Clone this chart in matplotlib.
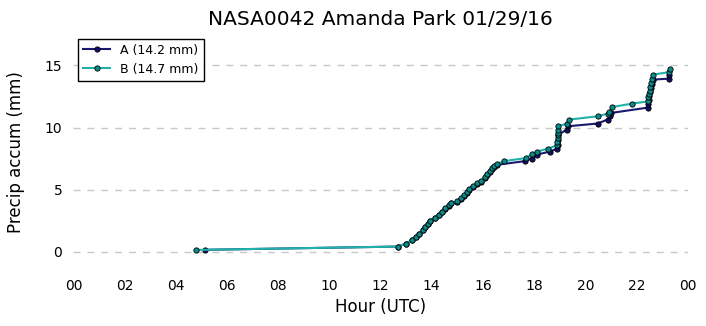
import matplotlib
matplotlib.use("Agg")
import matplotlib.pyplot as plt
from matplotlib.ticker import FixedLocator, FuncFormatter

# Gauge A: hour of day (UTC) and accumulated precipitation (mm)
hours_a = [5.16, 12.67, 12.99, 13.23, 13.40, 13.52, 13.65, 13.75, 13.84, 13.95,
           14.12, 14.27, 14.40, 14.51, 14.67, 14.77, 14.99, 15.13, 15.25, 15.36,
           15.45, 15.61, 15.75, 15.91, 16.08, 16.17, 16.27, 16.36, 16.44, 16.54,
           17.65, 17.90, 18.13, 18.62, 18.91, 18.92, 18.93, 18.94, 19.28, 19.31,
           20.48, 20.87, 20.98, 21.00, 22.44, 22.46, 22.48, 22.50, 22.54, 22.58,
           22.62, 22.64, 23.27, 23.29]
accum_a = [0.17, 0.43, 0.66, 0.95, 1.21, 1.45, 1.74, 2.00, 2.22, 2.48,
           2.71, 2.93, 3.18, 3.45, 3.72, 3.90, 4.02, 4.27, 4.50, 4.73,
           4.98, 5.22, 5.44, 5.66, 5.92, 6.15, 6.42, 6.63, 6.85, 7.00,
           7.30, 7.51, 7.83, 8.07, 8.31, 8.60, 9.00, 9.40, 9.84, 10.10,
           10.32, 10.64, 10.90, 11.17, 11.60, 11.90, 12.20, 12.50, 12.85, 13.20,
           13.50, 13.85, 13.93, 14.20]

# Gauge B
hours_b = [4.78, 12.67, 12.99, 13.23, 13.40, 13.52, 13.65, 13.75, 13.84, 13.95,
           14.12, 14.27, 14.40, 14.51, 14.67, 14.77, 14.99, 15.13, 15.25, 15.36,
           15.45, 15.61, 15.75, 15.91, 16.08, 16.17, 16.27, 16.36, 16.44, 16.54,
           16.82, 17.67, 17.93, 18.13, 18.56, 18.91, 18.91, 18.92, 18.93, 18.94,
           18.94, 18.95, 19.28, 19.37, 20.48, 20.87, 20.94, 21.05, 21.83, 22.44,
           22.46, 22.48, 22.51, 22.54, 22.58, 22.60, 22.64, 23.29, 23.33]
accum_b = [0.16, 0.43, 0.67, 0.96, 1.23, 1.47, 1.76, 2.03, 2.25, 2.51,
           2.75, 2.97, 3.23, 3.50, 3.77, 3.95, 4.07, 4.33, 4.57, 4.79,
           5.05, 5.29, 5.51, 5.72, 5.99, 6.23, 6.50, 6.71, 6.92, 7.06,
           7.30, 7.54, 7.86, 8.07, 8.31, 8.58, 8.85, 9.12, 9.38, 9.60,
           9.84, 10.10, 10.32, 10.64, 10.90, 11.12, 11.25, 11.65, 11.92, 12.10,
           12.45, 12.72, 12.94, 13.26, 13.58, 13.90, 14.25, 14.46, 14.73]

labels = ["A (14.2 mm)", "B (14.7 mm)"]
hour_ticks = [0, 2, 4, 6, 8, 10, 12, 14, 16, 18, 20, 22, 24]
accum_ticks = [0, 5, 10, 15]

fig = plt.figure(figsize=(7.06, 3.26), dpi=100)
ax = fig.add_axes([0.104, 0.17, 0.87, 0.725])

ax.plot(hours_a, accum_a, color="#191970", lw=1.5, marker="o", ms=3.8,
        mfc="#10106a", mec="black", mew=0.6, label=labels[0])
ax.plot(hours_b, accum_b, color="#20b2aa", lw=1.5, marker="o", ms=3.8,
        mfc="#0b8b8b", mec="black", mew=0.6, label=labels[1])

ax.set_xlim(0, 24)
ax.set_ylim(-1.5, 17.5)
ax.xaxis.set_major_locator(FixedLocator(hour_ticks))
ax.xaxis.set_major_formatter(FuncFormatter(lambda v, p: "%02d" % (int(round(v)) % 24)))
ax.yaxis.set_major_locator(FixedLocator(accum_ticks))

for s in ax.spines.values():
    s.set_visible(False)
ax.tick_params(length=0, labelsize=10)
ax.tick_params(axis="x", pad=6)
ax.tick_params(axis="y", pad=8)
ax.yaxis.grid(True, color="#c8c8c8", ls=(0, (5, 5)), lw=1)
ax.set_axisbelow(True)

ax.set_xlabel("Hour (UTC)", fontsize=12, labelpad=4)
ax.set_ylabel("Precip accum (mm)", fontsize=12, labelpad=14)
ax.set_title("NASA0042 Amanda Park 01/29/16", fontsize=14.5, pad=7)

leg = ax.legend(loc="upper left", fontsize=9, fancybox=False, framealpha=1,
                edgecolor="black", borderaxespad=0.35, handlelength=2.2)
leg.get_frame().set_linewidth(1.0)

fig.savefig("out.png", dpi=100)
